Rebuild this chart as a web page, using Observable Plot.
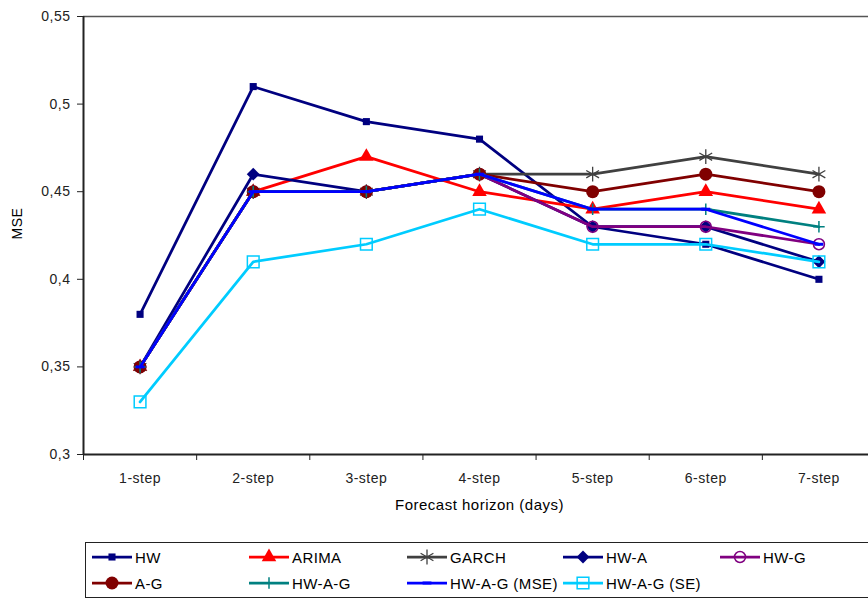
<!DOCTYPE html>
<html><head><meta charset="utf-8">
<script src="https://cdn.jsdelivr.net/npm/d3@7"></script>
<script src="https://cdn.jsdelivr.net/npm/@observablehq/plot@0.6"></script>
<style>
body{margin:0;background:#fff;overflow:hidden;font-family:"Liberation Sans",Arial,sans-serif;}
#chart svg{display:block;}
#legend{position:relative;margin-left:85px;margin-top:17px;width:800px;height:54px;border:1px solid #222;border-right:none;}
.item{position:absolute;display:flex;align-items:center;height:18px;font-size:15px;letter-spacing:0.4px;color:#000;white-space:nowrap;}
.item svg{display:block;}
.item span{margin-left:3px;}
</style></head><body>
<div id="chart"></div><div id="legend"></div>
<script>
// ---- data ----
const steps = ["1-step", "2-step", "3-step", "4-step", "5-step", "6-step", "7-step"];
const seriesNames = ["HW", "ARIMA", "GARCH", "HW-A", "HW-G", "A-G", "HW-A-G", "HW-A-G (MSE)", "HW-A-G (SE)"];
const hw     = [0.38, 0.51, 0.49, 0.48, 0.43, 0.42, 0.40];
const arima  = [0.35, 0.45, 0.47, 0.45, 0.44, 0.45, 0.44];
const garch  = [0.35, 0.45, 0.45, 0.46, 0.46, 0.47, 0.46];
const hwA    = [0.35, 0.46, 0.45, 0.46, 0.43, 0.43, 0.41];
const hwG    = [0.35, 0.45, 0.45, 0.46, 0.43, 0.43, 0.42];
const aG     = [0.35, 0.45, 0.45, 0.46, 0.45, 0.46, 0.45];
const hwAG   = [0.35, 0.45, 0.45, 0.46, 0.44, 0.44, 0.43];
const hwAGmse= [0.35, 0.45, 0.45, 0.46, 0.44, 0.44, 0.42];
const hwAGse = [0.33, 0.41, 0.42, 0.44, 0.42, 0.42, 0.41];
const yTicks = [0.3, 0.35, 0.4, 0.45, 0.5, 0.55];
const xTitle = "Forecast horizon (days)";
const yTitle = "MSE";

// ---- styles ----
const dash = {draw(ctx, size){ const w = Math.sqrt(size) * 0.5; ctx.moveTo(-w, 0); ctx.lineTo(w, 0); }};
const values = [hw, arima, garch, hwA, hwG, aG, hwAG, hwAGmse, hwAGse];
const styles = [
  {color:"#000080", symbol:"square",   r:4,   fill:"#000080", stroke:"none", sw:0},
  {color:"#FF0000", symbol:"triangle", r:5.4, fill:"#FF0000", stroke:"none", sw:0},
  {color:"#404040", symbol:"asterisk", r:7,   fill:"none", stroke:"#404040", sw:1.3},
  {color:"#000080", symbol:"diamond2", r:5.8, fill:"#000080", stroke:"none", sw:0},
  {color:"#800080", symbol:"circle",   r:5.5, fill:"none", stroke:"#800080", sw:1.5},
  {color:"#800000", symbol:"circle",   r:6.5, fill:"#800000", stroke:"none", sw:0},
  {color:"#008080", symbol:"plus",     r:3.8, fill:"none", stroke:"#008080", sw:1.5},
  {color:"#0000FF", symbol:dash,       r:5,   fill:"none", stroke:"#0000FF", sw:3},
  {color:"#00CCFF", symbol:"square",   r:6.6, fill:"none", stroke:"#00CCFF", sw:1.5}
];

const marks = [
  Plot.ruleY([yTicks[0]], {stroke:"#222", strokeWidth:2}),
  Plot.ruleY([yTicks[yTicks.length-1]], {stroke:"#555", strokeWidth:1.5}),
  Plot.ruleX([0.5], {stroke:"#222", strokeWidth:2}),
  Plot.axisY({ticks: yTicks, tickFormat: d => String(d).replace(".", ","), tickSize: 6, tickPadding: 7, fontSize: 14, label: null}),
  Plot.axisX({ticks: steps.map((s, i) => i + 1), tickFormat: i => steps[i - 1], tickSize: 0, tickPadding: 19, fontSize: 14, label: null}),
  Plot.axisX({ticks: d3.range(steps.length + 1).map(i => i + 0.5), tickFormat: () => "", tickSize: 6, label: null}),
  Plot.text([xTitle], {frameAnchor: "bottom", dy: 55, fontSize: 15, fill: "#000"}),
  Plot.text([yTitle], {frameAnchor: "left", dx: -66, dy: 4, rotate: -90, fontSize: 14, fill: "#000"})
];
values.forEach((vals, k) => {
  const s = styles[k];
  const data = vals.map((v, i) => ({step: i + 1, mse: v, name: seriesNames[k]}));
  marks.push(Plot.line(data, {x: "step", y: "mse", stroke: s.color, strokeWidth: 2.75}));
  marks.push(Plot.dot(data, {x: "step", y: "mse", symbol: s.symbol, r: s.r, fill: s.fill, stroke: s.stroke, strokeWidth: s.sw}));
});

const chart = Plot.plot({
  width: 868, height: 525,
  marginTop: 16, marginLeft: 83, marginRight: -7, marginBottom: 71,
  style: {fontFamily: "'Liberation Sans', Arial, sans-serif", letterSpacing: "0.5px", color: "#222", background: "#fff", overflow: "hidden"},
  x: {type: "linear", domain: [0.5, steps.length + 0.5]},
  y: {domain: [yTicks[0], yTicks[yTicks.length-1]]},
  marks
});
document.getElementById("chart").appendChild(chart);

// ---- legend ----
const colX = [6, 163, 321, 477, 634];
const rowY = [5, 31];
const legend = document.getElementById("legend");
seriesNames.forEach((name, k) => {
  const s = styles[k];
  const item = document.createElement("div");
  item.className = "item";
  item.style.left = colX[k % 5] + "px";
  item.style.top = rowY[Math.floor(k / 5)] + "px";
  const svg = d3.create("svg").attr("width", 40).attr("height", 18);
  svg.append("line").attr("x1", 0).attr("x2", 40).attr("y1", 9).attr("y2", 9).attr("stroke", s.color).attr("stroke-width", 2.75);
  const symObj = typeof s.symbol === "string" ? ({square: d3.symbolSquare, triangle: d3.symbolTriangle, asterisk: d3.symbolAsterisk, diamond2: d3.symbolDiamond2, circle: d3.symbolCircle, plus: d3.symbolPlus})[s.symbol] : s.symbol;
  svg.append("path").attr("transform", "translate(20,9)").attr("d", d3.symbol(symObj, s.r * s.r * Math.PI)())
    .attr("fill", s.fill).attr("stroke", s.stroke).attr("stroke-width", s.sw);
  item.appendChild(svg.node());
  const span = document.createElement("span");
  span.textContent = name;
  item.appendChild(span);
  legend.appendChild(item);
});
</script>
</body></html>
